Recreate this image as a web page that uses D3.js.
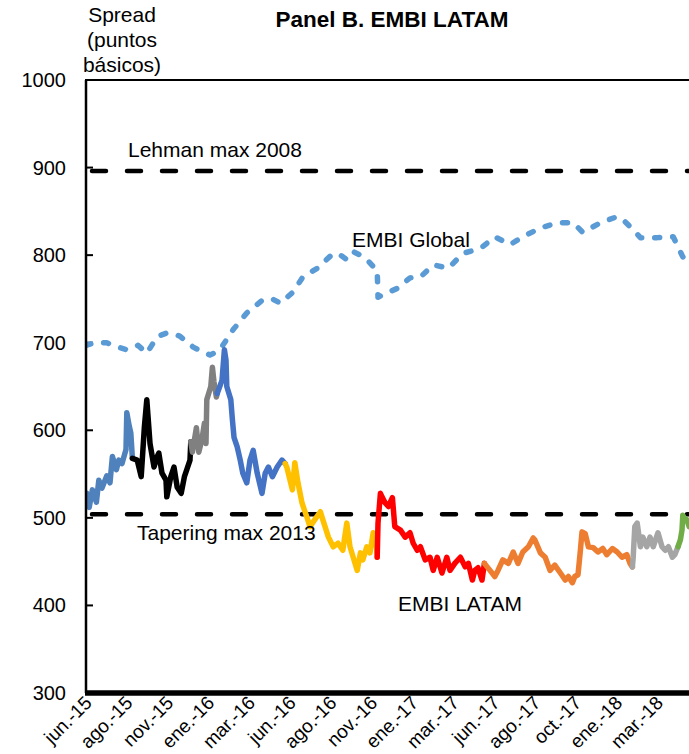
<!DOCTYPE html>
<html>
<head>
<meta charset="utf-8">
<script src="https://cdn.jsdelivr.net/npm/d3@7/dist/d3.min.js"></script>
<style>
  html, body { margin: 0; padding: 0; background: #fff; }
  svg { display: block; }
  text { font-family: "Liberation Sans", Arial, sans-serif; fill: #000; }
</style>
</head>
<body>
<svg id="chart" width="689" height="754"></svg>
<script>
// ---- DATA (trading-day index from jun-2015, spread in basis points) ----
const title = "Panel B. EMBI LATAM";
const yTicks = [300, 400, 500, 600, 700, 800, 900, 1000];
const xTickLabels = ["jun.-15","ago.-15","nov.-15","ene.-16","mar.-16","jun.-16","ago.-16","nov.-16",
                     "ene.-17","mar.-17","jun.-17","ago.-17","oct.-17","ene.-18","mar.-18"];
const xTickStep = 51; // trading days between category labels
const lehmanMax2008 = 896;
const taperingMax2013 = 504;

const latamDays = [0,1,4,8,13,16,20,26,30,33,38,41,45,50,51,54,56,58,
  64,69,73,76,80,85,89,91,95,100,101,106,110,114,119,123,126,130,131,
  133,138,141,145,148,150,151,156,158,160,163,164,
  170,173,175,176,181,183,185,189,193,196,201,205,209,214,220,224,228,233,239,245,249,
  251,258,261,265,270,276,280,286,293,296,303,309,315,321,326,330,334,339,343,346,351,355,359,363,364,
  365,368,370,374,378,383,386,393,399,405,409,414,418,424,430,434,439,445,451,455,461,468,474,478,483,486,490,495,498,
  505,511,515,521,528,534,540,546,553,559,561,568,574,580,586,593,599,603,608,611,615,618,620,624,628,634,640,646,651,658,664,670,676,680,683,
  684,686,689,693,696,701,705,709,715,720,724,728,733,736,740,
  743,745,746,749,751,754];
const latamValues = [520,528,512,532,518,543,534,548,540,570,555,566,562,578,620,605,597,568,
  566,547,604,635,585,558,570,574,551,543,524,547,558,535,528,547,555,566,587,
  575,603,575,590,608,585,635,650,672,655,638,642,
  657,692,680,650,635,612,592,581,565,551,540,566,577,551,528,551,558,547,558,566,562,
  558,532,563,540,517,501,490,498,507,498,478,467,471,463,494,467,455,440,460,452,467,460,483,470,455,
  494,528,524,517,513,523,490,486,478,483,471,463,467,452,455,440,455,437,455,440,448,455,444,448,429,440,443,429,448,
  440,433,440,452,448,461,448,461,467,477,475,460,455,440,446,437,429,433,426,433,435,463,484,482,467,466,461,465,458,465,461,455,458,448,444,
  455,490,494,467,478,467,478,467,483,467,463,467,455,458,467,
  475,486,503,498,498,490];
// period boundaries (day index) and colours of the EMBI LATAM line
const periodBreaks = [0, 58, 131, 164, 249, 364, 498, 683, 740, 754];
const periodColors = ["#4F81BD","#000000","#808080","#4472C4","#FFC000","#FF0000","#ED7D31","#A5A5A5","#70AD47"];

const globalDays = [0,11,26,36,51,65,76,89,101,111,118,134,145,155,165,171,184,201,221,233,243,259,271,289,
  309,318,326,334,343,351,358,364,365,374,389,405,418,434,453,471,483,495,511,530,546,568,589,609,621,643,664,674,684,693,714,734,746,754];
const globalValues = [697,700,700,696,692,697,688,707,711,710,707,695,690,686,690,697,715,734,749,750,745,758,775,785,
  802,800,795,804,800,795,788,783,752,756,762,774,775,789,785,802,805,809,821,812,821,831,837,837,826,837,844,838,829,820,820,821,798,795];

// ---- LAYOUT ----
const svg = d3.select("#chart");
const plot = { left: 86, top: 80, right: 718, bottom: 693 };
const x = d3.scaleLinear().domain([0, 790]).range([plot.left, plot.right]);
const y = d3.scaleLinear().domain([300, 1000]).range([plot.bottom, plot.top]);

svg.append("defs").append("clipPath").attr("id", "clip")
  .append("rect").attr("x", plot.left).attr("y", plot.top - 4)
  .attr("width", plot.right - plot.left).attr("height", plot.bottom - plot.top + 4);

// title
svg.append("text").attr("x", 392).attr("y", 27).attr("text-anchor", "middle")
  .style("font-size", "22.5px").style("font-weight", "bold").text(title);

// y-axis title
const yt = svg.append("text").attr("text-anchor", "middle").style("font-size", "21px");
["Spread", "(puntos", "básicos)"].forEach((s, i) =>
  yt.append("tspan").attr("x", 122).attr("y", 22 + i * 25).text(s));

// y tick labels & inside ticks
svg.append("g").selectAll("text").data(yTicks).join("text")
  .attr("x", 66).attr("y", d => y(d)).attr("dy", "0.35em").attr("text-anchor", "end")
  .style("font-size", "20px").text(d => d);
svg.append("g").selectAll("line").data(yTicks.slice(1, -1)).join("line")
  .attr("x1", plot.left).attr("x2", plot.left + 7).attr("y1", d => y(d)).attr("y2", d => y(d))
  .attr("stroke", "#000").attr("stroke-width", 2);

// x tick labels (rotated)
svg.append("g").selectAll("text").data(xTickLabels).join("text")
  .attr("transform", (d, i) => `translate(${x(i * xTickStep) + 7},${plot.bottom + 11}) rotate(-45)`)
  .attr("text-anchor", "end").style("font-size", "19px").text(d => d);

const g = svg.append("g").attr("clip-path", "url(#clip)");

// reference lines
[lehmanMax2008, taperingMax2013].forEach(v => {
  g.append("line").attr("x1", plot.left + 6).attr("x2", plot.right)
    .attr("y1", y(v)).attr("y2", y(v))
    .attr("stroke", "#000").attr("stroke-width", 4.5)
    .attr("stroke-dasharray", "14,21").attr("stroke-linecap", "round");
});

// EMBI Global
const globalData = globalDays.map((d, i) => [d, globalValues[i]]);
const line = d3.line().x(d => x(d[0])).y(d => y(d[1]));
g.append("path").datum(globalData).attr("d", line)
  .attr("fill", "none").attr("stroke", "#5B9BD5").attr("stroke-width", 5.5)
  .attr("stroke-dasharray", "5,13").attr("stroke-linecap", "round").attr("stroke-linejoin", "round");

// EMBI LATAM by period
const latamData = latamDays.map((d, i) => [d, latamValues[i]]);
periodColors.forEach((c, i) => {
  const seg = latamData.filter(p => p[0] >= periodBreaks[i] && p[0] <= periodBreaks[i + 1]);
  g.append("path").datum(seg).attr("d", line)
    .attr("fill", "none").attr("stroke", c).attr("stroke-width", 5.5)
    .attr("stroke-linejoin", "round").attr("stroke-linecap", "round");
});

// axes / frame
svg.append("line").attr("x1", plot.left).attr("x2", plot.left).attr("y1", plot.top).attr("y2", plot.bottom)
  .attr("stroke", "#000").attr("stroke-width", 2.5);
svg.append("line").attr("x1", plot.left - 1).attr("x2", plot.right).attr("y1", plot.top).attr("y2", plot.top)
  .attr("stroke", "#000").attr("stroke-width", 2);
svg.append("line").attr("x1", plot.left - 1).attr("x2", plot.right).attr("y1", plot.bottom).attr("y2", plot.bottom)
  .attr("stroke", "#000").attr("stroke-width", 5.5);

// annotations
const ann = [["Lehman max 2008", 128, 157], ["EMBI Global", 352, 247],
             ["Tapering max 2013", 137, 540], ["EMBI LATAM", 398, 611]];
svg.append("g").selectAll("text").data(ann).join("text")
  .attr("x", d => d[1]).attr("y", d => d[2]).style("font-size", "21px").text(d => d[0]);
</script>
</body>
</html>
